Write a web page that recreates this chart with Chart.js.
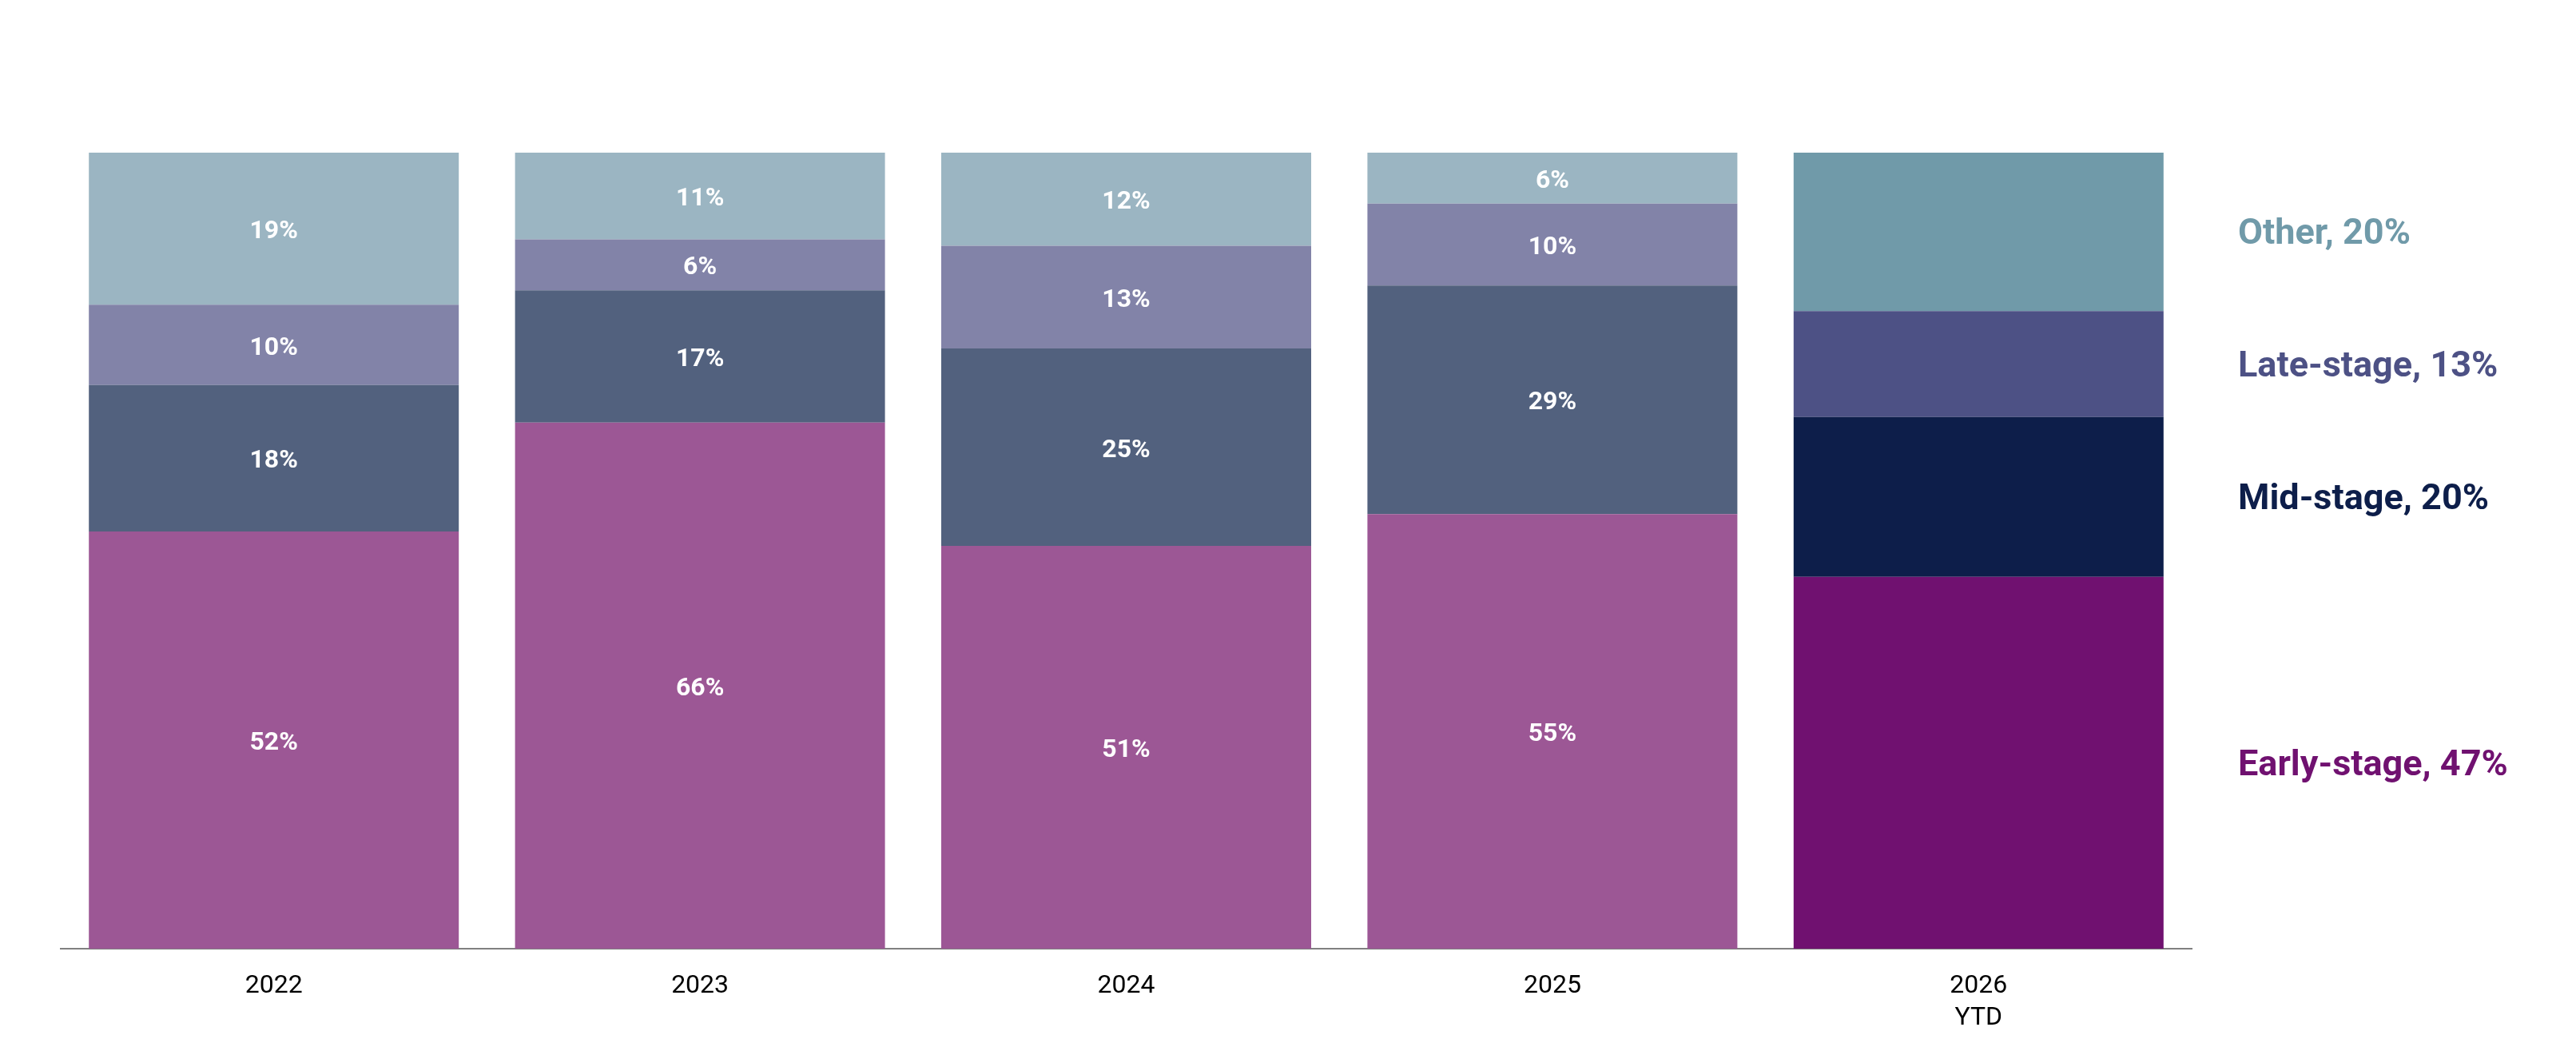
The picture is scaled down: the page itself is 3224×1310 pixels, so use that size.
<!DOCTYPE html>
<html>
<head>
<meta charset="utf-8">
<script src="https://cdn.jsdelivr.net/npm/chart.js@4.4.1/dist/chart.umd.min.js"></script>
<style>
  html, body { margin: 0; padding: 0; background: #fff; }
  #wrap { width: 3224px; height: 1310px; }
</style>
</head>
<body>
<div id="wrap"><canvas id="stageChart" width="3224" height="1310"></canvas></div>
<script>
// Parts (en %), les étiquettes affichent la valeur arrondie
var years = [['2022'], ['2023'], ['2024'], ['2025'], ['2026', 'YTD']];
var earlyStage = [52.4, 66.1, 50.6, 54.6, 46.7];
var midStage = [18.4, 16.6, 24.8, 28.7, 20.1];
var lateStage = [10.1, 6.4, 12.9, 10.3, 13.3];
var otherStage = [19.1, 10.9, 11.7, 6.4, 19.9];
var seriesNames = ['Early-stage', 'Mid-stage', 'Late-stage', 'Other'];

// Couleurs : années passées puis YTD
var pastColors = ['#9c5795', '#52617e', '#8283a8', '#9bb5c2'];
var ytdColors = ['#701170', '#0d1e4a', '#4d5185', '#709aa9'];

var rawSeries = [earlyStage, midStage, lateStage, otherStage];

var datasets = rawSeries.map(function(arr, k) {
    return {
        label: seriesNames[k],
        data: arr,
        backgroundColor: arr.map(function(v, i) { return i === arr.length - 1 ? ytdColors[k] : pastColors[k]; }),
        borderWidth: 0,
        categoryPercentage: 1,
        barPercentage: 0.868
    };
});

// Étiquettes dans les barres et légende à droite
var labelPlugin = {
    id: 'stageLabels',
    afterDatasetsDraw: function(chart) {
        var c = chart.ctx;
        var last = years.length - 1;
        c.save();
        chart.data.datasets.forEach(function(ds, k) {
            var meta = chart.getDatasetMeta(k);
            meta.data.forEach(function(bar, i) {
                var mid = (bar.y + bar.base) / 2;
                var txt = Math.round(ds.data[i]) + '%';
                if (i < last) {
                    c.font = 'bold 32px Roboto';
                    c.fillStyle = '#ffffff';
                    c.textAlign = 'center';
                    c.textBaseline = 'middle';
                    c.fillText(txt, bar.x, mid + 4);
                } else {
                    c.font = 'bold 45px Roboto';
                    c.fillStyle = ytdColors[k];
                    c.textAlign = 'left';
                    c.textBaseline = 'middle';
                    c.fillText(ds.label + ', ' + txt, 2801, mid + 4);
                }
            });
        });
        c.restore();
    }
};

var ctx = document.getElementById('stageChart').getContext('2d');
new Chart(ctx, {
    type: 'bar',
    data: { labels: years, datasets: datasets },
    options: {
        responsive: false,
        animation: false,
        layout: { padding: { left: 76, right: 481, top: 191, bottom: 0 } },
        plugins: { legend: { display: false }, tooltip: { enabled: false } },
        scales: {
            x: {
                stacked: true,
                grid: { display: false, drawTicks: false },
                border: { display: true, color: '#808080', width: 2 },
                ticks: {
                    color: '#000000',
                    font: { family: 'Roboto', size: 32, lineHeight: 1.25 },
                    padding: 27,
                    maxRotation: 0
                },
                afterFit: function(scale) { scale.height = 123; }
            },
            y: {
                stacked: true,
                display: false,
                min: 0,
                max: 100
            }
        }
    },
    plugins: [labelPlugin]
});
</script>
</body>
</html>
